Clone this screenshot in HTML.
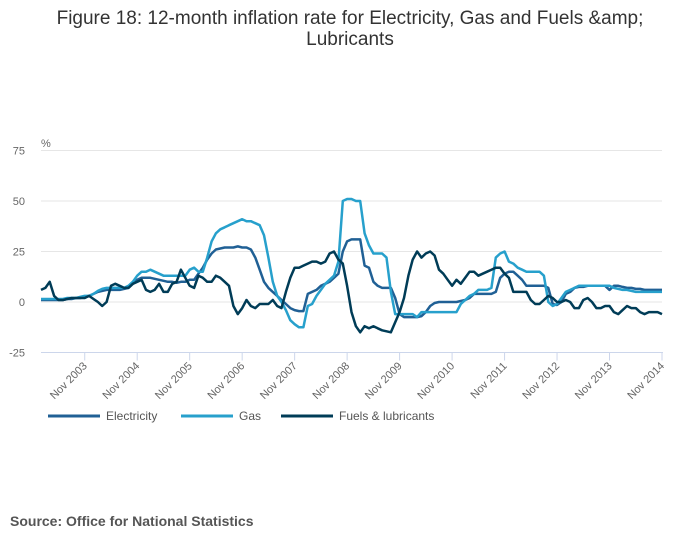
<!DOCTYPE html>
<html><head><meta charset="utf-8"><style>
body{margin:0;background:#fff;font-family:"Liberation Sans",sans-serif;}
#wrap{position:relative;width:700px;height:549px;overflow:hidden;}
</style></head><body>
<div id="wrap">
<svg id="chart" width="700" height="549" xmlns="http://www.w3.org/2000/svg">
<text x="350" y="24" text-anchor="middle" font-size="19" fill="#333">Figure 18: 12-month inflation rate for Electricity, Gas and Fuels &amp;amp;</text>
<text x="350" y="45" text-anchor="middle" font-size="19" fill="#333">Lubricants</text>
<text x="41" y="147" font-size="11" fill="#666">%</text>
<g id="grid"></g><g id="xaxis"></g><g id="series"></g>
<g>
<g><line x1="48" y1="416" x2="100" y2="416" stroke="#206095" stroke-width="3"/><text x="106" y="420" font-size="12" fill="#555">Electricity</text></g>
<g><line x1="181" y1="416" x2="233" y2="416" stroke="#27a0cc" stroke-width="3"/><text x="239" y="420" font-size="12" fill="#555">Gas</text></g>
<g><line x1="281" y1="416" x2="333" y2="416" stroke="#003c57" stroke-width="3"/><text x="339" y="420" font-size="12" fill="#555">Fuels &amp; lubricants</text></g>
</g>
<text x="10" y="526" font-size="14" font-weight="bold" fill="#555">Source: Office for National Statistics</text>
</svg>
</div>
<script>
const yTicks=[75,50,25,0,-25];
const xTickLabels=["Nov 2003","Nov 2004","Nov 2005","Nov 2006","Nov 2007","Nov 2008","Nov 2009","Nov 2010","Nov 2011","Nov 2012","Nov 2013","Nov 2014"];
const xTickIndex=[10,22,34,46,58,70,82,94,106,118,130,142];
const electricity=[1,1,1,1,1,1,1.5,1.5,2,2,2.5,3,
4,5,5.5,6,6,6,6,6.5,7,9,11,12,
12,12,11.5,11,10.5,10,10,9.5,10,10,11,11,
14,17,21,24,26,26.5,27,27,27,27.5,27,27,
26,22,16,10,7,5,3,1,-1,-3,-4,-4.5,
-4.5,4,5,6,8,9,10,12,14,25,30,31,
31,31,18,17,10,8,7,7,7,2,-6,-7.5,
-7.5,-7.5,-7.5,-7,-5,-2,-0.5,0,0,0,0,0,
0.5,1,2,4,4,4,4,4,5,12,14,15,
15,13,11,8,8,8,8,8,7,-1,-1.5,0,
4,5,7,7.5,7.5,8,8,8,8,8,6,8,
8,7.5,7,7,6.5,6.5,6,6,6,6,6];
const gas=[1.5,1.5,1.5,1.5,1.5,1.5,2,2,2,2.5,3,3,
4,5.5,6.5,7,7,7,7,7,8,10,13,15,
15,16,15,14,13,13,13,13,13,13,16,17,
15,15,22,30,34,36,37,38,39,40,41,40,
40,39,38,33,22,10,3,0,-4,-9,-11,-12.5,
-12.5,-2,-1,3,6,9,11,13,20,50,51,51,
50,50,34,28,24,24,24,22,5,-6,-6,-6,
-6,-6,-7.5,-5,-5,-5,-5,-5,-5,-5,-5,-5,
-1,1,3,4,6,6,6,7,22,24,25,20,
19,17,16,15,15,15,15,13,0,-2,-1,2,
5,6,7,8,8,8,8,8,8,8,8,7,
6.5,6,6,5.5,5,5,5,5,5,5,5];
const fuels=[6,7,10,3,1,1,1.5,2,2,2,2,3,
1.5,0,-2,0,8,9,8,7,7,9,10,11,
6,5,6,9,5,5,9,10,16,12,8,7,
13,12,10,10,13,12,10,8,-2,-6,-3,1,
-2,-3,-1,-1,-1,1,-2,-3,5,12,17,17,
18,19,20,20,19,20,24,25,21,19,8,-5,
-12,-15,-12,-13,-12,-13,-14,-14.5,-15,-10,-5,2,
13,21,25,22,24,25,23,16,14,11,8,11,
9,12,15,15,13,14,15,16,17,17,14,12,
5,5,5,5,1,-1,-1,1,3,2,0,0,
1,0,-3,-3,1,2,0,-3,-3,-2,-2,-5,
-6,-4,-2,-3,-3,-5,-6,-5,-5,-5,-6];
const NS="http://www.w3.org/2000/svg";
const X0=41,X1=662,Y0=302,PPU=2.02;
function xs(i){return X0+(X1-X0)*i/(electricity.length-1);}
function ys(v){return Y0-v*PPU;}
function mk(t,a,p){const e=document.createElementNS(NS,t);for(const k in a)e.setAttribute(k,a[k]);p.appendChild(e);return e;}
const grid=document.getElementById('grid');
yTicks.forEach(v=>{
  const y=ys(v);
  if(v>-25){const l=mk('line',{x1:X0,x2:X1,y1:y,y2:y,stroke:'#e6e6e6','stroke-width':1},grid);
  
  }
  const t=mk('text',{x:25,y:y+4,'text-anchor':'end','font-size':11,fill:'#666'},grid);
  t.textContent=v;
  
  
});
const xa=document.getElementById('xaxis');
const ax=mk('line',{x1:X0,x2:X1+1,y1:ys(-25),y2:ys(-25),stroke:'#ccd6eb','stroke-width':1},xa);


xTickLabels.forEach((lab,k)=>{
  const x=xs(xTickIndex[k]),y=ys(-25);
  const tk=mk('line',{x1:x,x2:x,y1:y,y2:y+8,stroke:'#ccd6eb'},xa);
  
  
  const t=mk('text',{x:x+3,y:y+14,'text-anchor':'end','font-size':11,fill:'#666',transform:`rotate(-45 ${x+3} ${y+14})`},xa);
  t.textContent=lab;
  
  
});
const sg=document.getElementById('series');
[[electricity,'#206095','electricity-line'],[gas,'#27a0cc','gas-line'],[fuels,'#003c57','fuels-line']].forEach(([d,c,n])=>{
  const p=mk('path',{d:d.map((v,i)=>(i?'L':'M')+xs(i).toFixed(1)+' '+ys(v).toFixed(1)).join(''),fill:'none',stroke:c,'stroke-width':2.5,'stroke-linejoin':'round'},sg);
  
  
});
</script>
</body></html>
